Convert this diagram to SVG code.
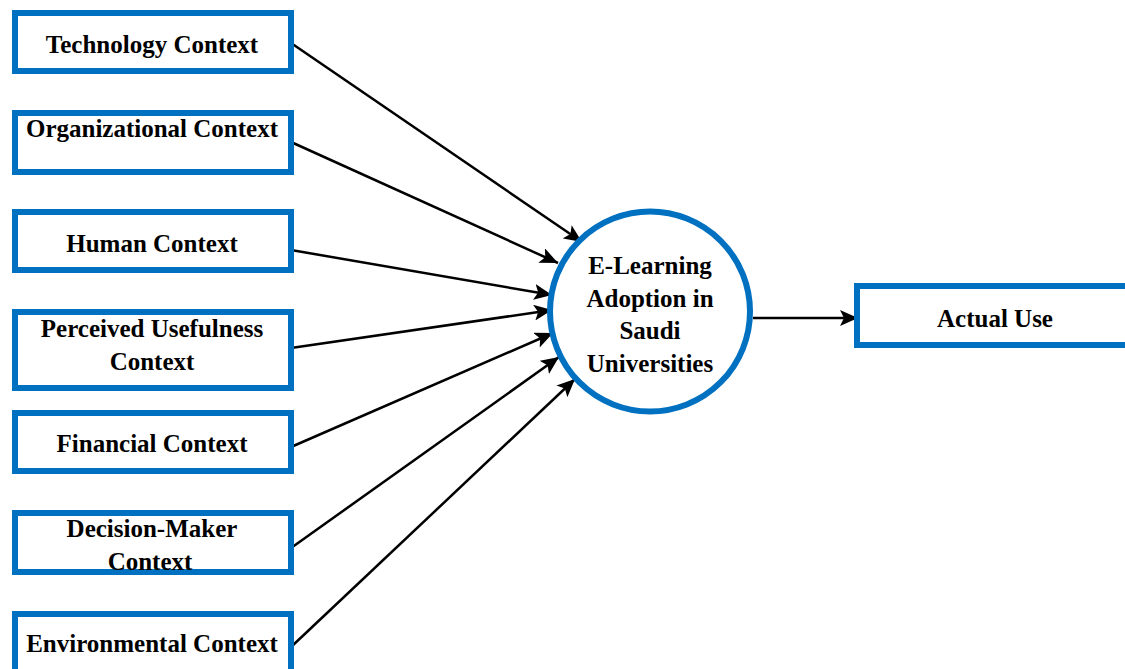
<svg xmlns="http://www.w3.org/2000/svg" width="1125" height="669" viewBox="0 0 1125 669">
<style>
.box{fill:#fff;stroke:#0070C0;stroke-width:6}
.t{font-family:"Liberation Serif","Times New Roman",serif;font-weight:bold;font-size:25px;fill:#000;text-anchor:middle}
.c{stroke:#000;stroke-width:2.5;fill:none;marker-end:url(#ah)}
</style>
<defs>
<marker id="ah" markerUnits="userSpaceOnUse" markerWidth="20" markerHeight="16" refX="18" refY="8" orient="auto">
<path d="M0,0 L18,8 L0,16 L4,8 z" fill="#000"/>
</marker>
</defs>
<rect width="1125" height="669" fill="#fff"/>
<g id="connectors">
<line class="c" x1="291" y1="43" x2="582" y2="242"/>
<line class="c" x1="291" y1="142" x2="558" y2="263"/>
<line class="c" x1="291" y1="250" x2="552" y2="295"/>
<line class="c" x1="291" y1="348" x2="552" y2="310"/>
<line class="c" x1="291" y1="447" x2="553" y2="333"/>
<line class="c" x1="291" y1="548" x2="559" y2="357"/>
<line class="c" x1="291" y1="647" x2="575" y2="379"/>
<line class="c" x1="753" y1="318" x2="858" y2="318"/>
</g>
<g id="technology"><rect class="box" x="15" y="13" width="276" height="58"/><text class="t" x="152" y="53">Technology Context</text></g>
<g id="organizational"><rect class="box" x="15" y="113" width="276" height="59"/><text class="t" x="152" y="137">Organizational Context</text></g>
<g id="human"><rect class="box" x="15" y="212" width="276" height="58"/><text class="t" x="152" y="252">Human Context</text></g>
<g id="perceived"><rect class="box" x="15" y="312" width="276" height="76"/><text class="t" x="152" y="337">Perceived Usefulness</text><text class="t" x="152" y="370">Context</text></g>
<g id="financial"><rect class="box" x="15" y="413" width="276" height="58"/><text class="t" x="152" y="452">Financial Context</text></g>
<g id="decision"><rect class="box" x="15" y="513" width="276" height="59"/><text class="t" x="152" y="537">Decision-Maker</text><text class="t" x="150" y="570">Context</text></g>
<g id="environmental"><rect class="box" x="15" y="614" width="276" height="80"/><text class="t" x="152" y="652">Environmental Context</text></g>
<g id="elearning"><circle cx="650" cy="311.5" r="100" fill="#fff" stroke="#0070C0" stroke-width="6"/>
<text class="t" x="650" y="274">E-Learning</text><text class="t" x="650" y="307">Adoption in</text><text class="t" x="650" y="339">Saudi</text><text class="t" x="650" y="372">Universities</text></g>
<g id="actual"><rect class="box" x="857" y="286" width="290" height="59"/><text class="t" x="995" y="327">Actual Use</text></g>
</svg>
